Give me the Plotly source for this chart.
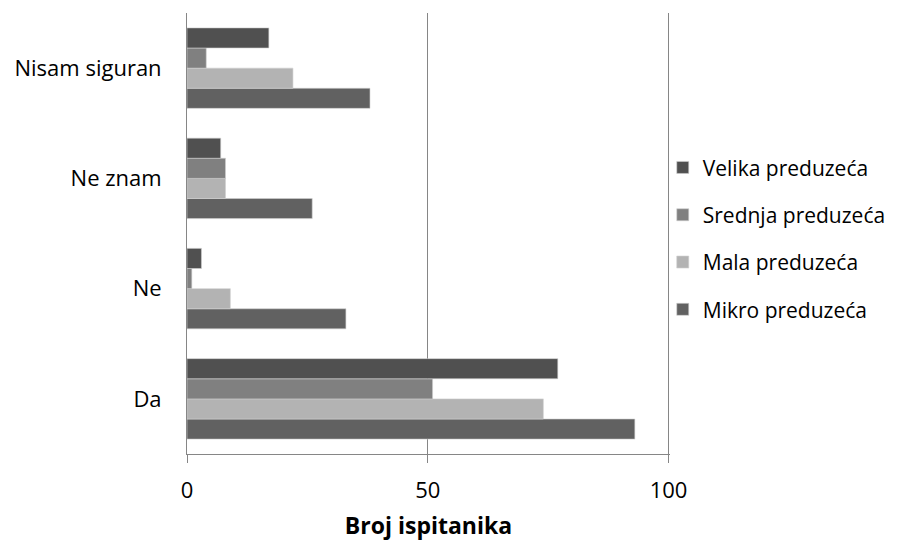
import plotly.graph_objects as go

categories = ["Da", "Ne", "Ne znam", "Nisam siguran"]
series_names = ["Mikro preduzeća", "Mala preduzeća", "Srednja preduzeća", "Velika preduzeća"]
mikro = [93, 33, 26, 38]
mala = [74, 9, 8, 22]
srednja = [51, 1, 8, 4]
velika = [77, 3, 7, 17]
values = [mikro, mala, srednja, velika]
colors = ["#616161", "#b3b3b3", "#808080", "#505050"]
legend_ranks = [4, 3, 2, 1]

FONT = "Open Sans"

fig = go.Figure()
for name, vals, col, rank in zip(series_names, values, colors, legend_ranks):
    fig.add_trace(go.Bar(
        y=categories, x=vals, name=name, orientation="h",
        marker=dict(color=col, line=dict(color="#d0d0d0", width=0.6)),
        legendgroup=name, legendrank=rank,
    ))

fig.update_layout(
    width=904, height=541,
    margin=dict(l=187, r=234, t=13, b=87),
    paper_bgcolor="white", plot_bgcolor="white",
    barmode="group", bargap=0.27, bargroupgap=0,
    font=dict(family=FONT, size=21, color="#000000"),
    legend=dict(
        x=0.985, y=0.488, xanchor="left", yanchor="middle",
        traceorder="grouped", tracegroupgap=17,
        bgcolor="rgba(0,0,0,0)",
        font=dict(family=FONT, size=21),
    ),
    xaxis=dict(
        range=[0, 100.3], tickvals=[0, 50, 100],
        showgrid=True, gridcolor="#868686", gridwidth=1,
        showline=True, linecolor="#868686", linewidth=1,
        ticks="outside", ticklen=8, tickcolor="#868686",
        zeroline=False, ticklabelstandoff=9, automargin=False,
        tickfont=dict(size=22),
        title=dict(text="<b>Broj ispitanika</b>", font=dict(size=23), standoff=17),
    ),
    yaxis=dict(
        showline=True, linecolor="#868686", linewidth=1,
        showgrid=False, ticks="", ticklabelstandoff=20, automargin=False,
        tickfont=dict(size=22),
    ),
)

fig.write_html("out.html")
